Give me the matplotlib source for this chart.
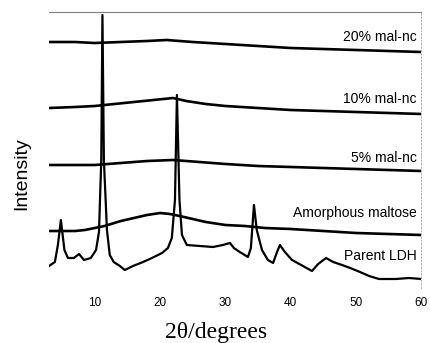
import matplotlib
matplotlib.use("Agg")
import matplotlib.pyplot as plt

# ---- data (intensity in arbitrary units) ----
ldh_x = [3.0, 3.9, 4.36, 4.82, 5.36, 5.9, 6.8, 7.6, 8.35, 9.4, 10.2, 10.65, 11.0, 11.18,
         11.4, 11.87, 12.3, 12.9, 13.85, 14.6, 15.85, 17.4, 18.75, 20.3, 21.2, 21.8,
         22.28, 22.58, 22.97, 23.35, 24.1, 26.1, 28.1, 29.6, 30.7, 31.3, 32.2, 33.45,
         33.9, 34.37, 34.8, 35.6, 36.5, 37.3, 37.9, 38.35, 39.1, 40.2, 41.6, 43.25,
         44.2, 45.4, 46.5, 47.85, 49.1, 50.6, 52.0, 53.5, 56.1, 58.1, 60.0]
ldh_y = [22, 26, 43, 68, 38, 30, 30, 34, 28, 30, 38, 56, 128, 273,
         128, 58, 33, 26, 22, 18, 22, 26, 30, 35, 40, 50,
         88, 193, 88, 53, 43, 42, 41, 43, 45, 40, 36, 31,
         40, 83, 58, 38, 28, 25, 36, 43, 36, 28, 23, 17,
         24, 30, 26, 23, 20, 16, 12, 9, 9, 10, 9]

amo_x = [3, 7, 8.5, 10, 11.5, 14, 16, 18, 20, 21.5, 23, 25, 27, 30, 33, 36, 40, 45, 50, 55, 60]
amo_y = [57, 57, 58, 60, 62, 67, 70, 73, 75, 74, 72, 69, 66, 63, 62, 60, 59, 57, 55, 54, 53]

mal5_x = [3, 7, 10, 14, 18, 22, 26, 30, 35, 40, 45, 50, 55, 60]
mal5_y = [123, 123, 123, 125, 127, 128, 126, 124, 122, 121, 120, 119, 118, 117]

mal10_x = [3, 7, 10, 13, 16, 19, 22, 24, 27, 30, 35, 40, 45, 50, 55, 60]
mal10_y = [180, 181, 182, 184, 186, 188, 190, 187, 184, 182, 180, 178, 177, 176, 175, 174]

mal20_x = [3, 7, 10, 14, 18, 21, 25, 30, 35, 40, 45, 50, 55, 60]
mal20_y = [246, 246, 245, 246, 247, 248, 246, 244, 242, 240, 239, 238, 237, 236]

labels = ["20% mal-nc", "10% mal-nc", "5% mal-nc", "Amorphous maltose", "Parent LDH"]
label_y = [251, 189, 130, 75, 32]
xticks = [10, 20, 30, 40, 50, 60]

# ---- figure ----
fig = plt.figure(figsize=(4.30, 3.43), dpi=100)
ax = fig.add_axes([49 / 430, (343 - 288) / 343, 372.4 / 430, 276 / 343])

series = [(mal20_x, mal20_y), (mal10_x, mal10_y), (mal5_x, mal5_y),
          (amo_x, amo_y), (ldh_x, ldh_y)]
for i, (xs, ys) in enumerate(series):
    ax.plot(xs, ys, color="black", lw=1.9 if i < 4 else 1.6,
            solid_joinstyle="round")

for lab, ly in zip(labels, label_y):
    ax.text(59.3, ly, lab, ha="right", va="center", fontsize=10,
            family="Liberation Sans", color="black")

ax.set_xlim(3, 60)
ax.set_ylim(0, 276)
ax.set_xticks(xticks)
ax.set_xticklabels([str(t) for t in xticks], family="Liberation Sans", fontsize=8.5)
ax.set_yticks([])
ax.tick_params(axis="x", length=0, pad=6.5)

for s in ("left", "bottom"):
    ax.spines[s].set_visible(False)
ax.spines["top"].set_color("0.5")
ax.spines["top"].set_linewidth(0.8)
ax.spines["right"].set_color("0.65")
ax.spines["right"].set_linewidth(0.6)
ax.spines["right"].set_linestyle((0, (2, 2)))

ax.set_xlabel("2θ/degrees", family="Liberation Serif", fontsize=17, va="baseline")
ax.xaxis.set_label_coords((216 - 49) / 372.4, (288 - 338) / 276)
ax.set_ylabel("Intensity", family="Liberation Sans", fontsize=14, va="baseline")
ax.yaxis.set_label_coords((26 - 49) / 372.4, (288 - 174) / 276)

fig.savefig("out.png", dpi=100)
